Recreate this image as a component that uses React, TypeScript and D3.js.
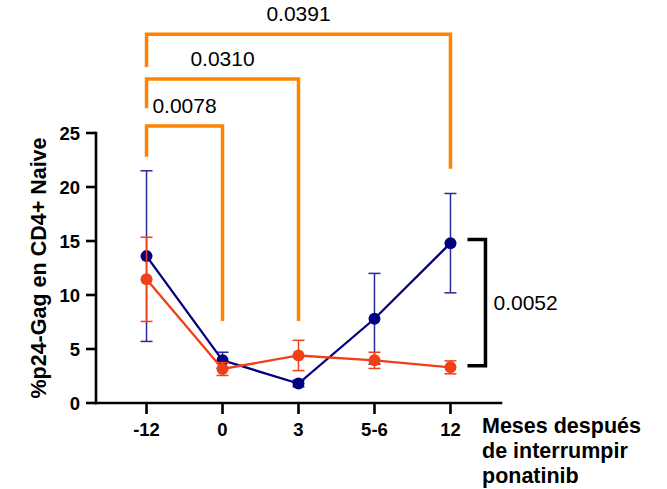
import React from "react";
import * as d3 from "d3";

const categories = ["-12", "0", "3", "5-6", "12"];
const blueMean = [13.6, 3.95, 1.8, 7.8, 14.8];
const blueErr = [7.9, 0.75, 0.3, 4.2, 4.6];
const orangeMean = [11.45, 3.15, 4.4, 3.95, 3.3];
const orangeErr = [3.9, 0.6, 1.4, 0.75, 0.6];
const yTicks = [0, 5, 10, 15, 20, 25];

const compFrom = ["-12", "-12", "-12"];
const compTo = ["0", "3", "12"];
const compLabel = ["0.0078", "0.0310", "0.0391"];
const compTop = [25.65, 30.0, 34.15];
const compLeftEnd = [22.8, 27.3, 31.1];
const compRightEnd = [7.6, 7.6, 21.7];

const sideTop = 15.15;
const sideBottom = 3.45;
const sideLabel = "0.0052";

const xTitle = ["Meses después", "de interrumpir", "ponatinib"];
const yTitle = "%p24-Gag en CD4+ Naive";

const W = 667;
const H = 489;
const FONT = "'Liberation Sans', Arial, sans-serif";
const BLUE = "#000080";
const RED = "#F0401A";
const ORANGE = "#FF8200";

export default function App() {
  const x = d3.scalePoint<string>().domain(categories).range([96, 501]).padding(0.665);
  const y = d3.scaleLinear().domain([0, 25]).range([403, 133]);

  const line = d3
    .line<number>()
    .x((_, i) => x(categories[i])!)
    .y((d) => y(d));

  const series = [
    { mean: blueMean, err: blueErr, color: BLUE, ecolor: "#2a2a98" },
    { mean: orangeMean, err: orangeErr, color: RED, ecolor: RED },
  ];

  const x0 = x.range()[0];
  const x1 = x.range()[1];
  const y0 = y(0);
  const yTop = y(25);
  const sideX = x("12")! + 35;

  return (
    <div style={{ position: "absolute", left: 0, top: 0 }}>
      <svg width={W} height={H} style={{ display: "block" }} fontFamily={FONT}>
        <rect width={W} height={H} fill="#fff" />
        {/* brackets */}
        {compFrom.map((f, i) => {
          const xa = x(f)!;
          const xb = x(compTo[i])!;
          const yt = y(compTop[i]);
          return (
            <g key={"c" + i}>
              <path
                d={`M${xa},${y(compLeftEnd[i])}V${yt}H${xb}V${y(compRightEnd[i])}`}
                fill="none"
                stroke={ORANGE}
                strokeWidth={3.5}
              />
              <text x={(xa + xb) / 2} y={yt - 13} textAnchor="middle" fontSize={21} fill="#000">
                {compLabel[i]}
              </text>
            </g>
          );
        })}
        {/* side bracket */}
        <path
          d={`M${sideX - 18},${y(sideTop)}H${sideX}V${y(sideBottom)}H${sideX - 18}`}
          fill="none"
          stroke="#000"
          strokeWidth={3.5}
        />
        <text x={sideX + 8} y={(y(sideTop) + y(sideBottom)) / 2 + 7.5} fontSize={21} fill="#000">
          {sideLabel}
        </text>
        {/* axes */}
        <g stroke="#000" strokeWidth={2.6} fill="none">
          <line x1={x0} x2={x1} y1={y0} y2={y0} strokeLinecap="square" />
          <line x1={x0} x2={x0} y1={y0} y2={yTop} strokeLinecap="square" />
          {yTicks.map((t) => (
            <line key={"yt" + t} x1={x0 - 10} x2={x0} y1={y(t)} y2={y(t)} />
          ))}
          {categories.map((c) => (
            <line key={"xt" + c} x1={x(c)} x2={x(c)} y1={y0} y2={y0 + 11} />
          ))}
        </g>
        {yTicks.map((t) => (
          <text key={"yl" + t} x={x0 - 16} y={y(t) + 6.5} textAnchor="end" fontSize={18.5} fontWeight="bold">
            {t}
          </text>
        ))}
        {categories.map((c) => (
          <text key={"xl" + c} x={x(c)} y={436} textAnchor="middle" fontSize={18.5} fontWeight="bold">
            {c}
          </text>
        ))}
        <text
          transform={`translate(46,${(y0 + yTop) / 2}) rotate(-90)`}
          textAnchor="middle"
          fontSize={21.5}
          fontWeight="bold"
        >
          {yTitle}
        </text>
        {xTitle.map((t, i) => (
          <text key={"xtt" + i} x={482} y={433 + i * 25} fontSize={21.5} fontWeight="bold">
            {t}
          </text>
        ))}
        {/* series */}
        {series.map((s, si) => (
          <g key={"s" + si}>
            {s.mean.map((m, i) => {
              const cx = x(categories[i])!;
              const e = s.err[i];
              return (
                <g key={i} stroke={s.ecolor} strokeWidth={1.5}>
                  <line x1={cx} x2={cx} y1={y(m - e)} y2={y(m + e)} />
                  <line x1={cx - 6} x2={cx + 6} y1={y(m + e)} y2={y(m + e)} />
                  <line x1={cx - 6} x2={cx + 6} y1={y(m - e)} y2={y(m - e)} />
                </g>
              );
            })}
            <path d={line(s.mean) || ""} fill="none" stroke={s.color} strokeWidth={2.3} />
            {s.mean.map((m, i) => (
              <circle key={"p" + i} cx={x(categories[i])} cy={y(m)} r={6} fill={s.color} />
            ))}
          </g>
        ))}
      </svg>
    </div>
  );
}
